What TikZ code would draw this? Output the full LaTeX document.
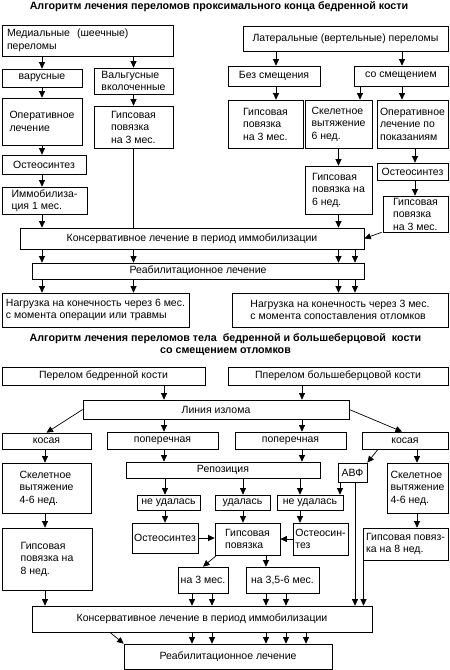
\documentclass[tikz,border=0pt]{standalone}
\usepackage{fontspec}
\setmainfont{Liberation Sans}
\usetikzlibrary{arrows.meta,calc}
\tikzset{
  box/.style={draw, line width=0.7pt, inner sep=0pt, align=center, font=\fontsize{10.5}{12.5}\selectfont},
  arr/.style={line width=0.7pt, -{Triangle[length=6.5pt,width=6pt]}},
  ln/.style={line width=0.7pt},
  ttl/.style={font=\fontsize{10.7}{12}\selectfont\bfseries, align=center, inner sep=0pt},
}
\newcommand\bx[7][]{\node[box,#1,minimum width={#4-#3},minimum height={#6-#5}] (#2) at ({(#3+#4)/2},{(#5+#6)/2}) {#7};}
\begin{document}
\begin{tikzpicture}[x=1pt,y=-1pt]
\useasboundingbox (0,0) rectangle (450,670);
% ---------- chart 1 ----------
\node[ttl] (t1) at (219,6.5) {Алгоритм лечения переломов проксимального конца бедренной кости};
\bx[text width=161pt, align=left]{med}{2}{173}{25}{56}{Медиальные\ \ (шеечные)\\переломы}
\bx{var}{2}{82}{69}{87}{варусные}
\bx[align=left]{val}{94}{173}{68}{94}{Вальгусные\\вколоченные}
\bx[align=left]{oper1}{2}{82}{98}{145}{Оперативное\\лечение}
\bx[align=left]{gips1}{94}{173}{106}{148}{Гипсовая\\повязка\\на 3 мес.}
\bx{osteo1}{2}{86}{155}{174}{Остеосинтез}
\bx[align=left]{immob}{2}{87}{187}{214}{Иммобилиза-\\ция 1 мес.}
\bx{kons1}{20}{364}{228}{249}{Консервативное лечение в период иммобилизации}
\bx{reab1}{32}{364}{263}{279}{Реабилитационное лечение}
\bx[align=left]{nagr1}{2}{189}{293}{327}{Нагрузка на конечность через 6 мес.\\с момента операции или травмы}
\bx[align=left]{nagr2}{232}{448}{293}{327}{Нагрузка на конечность через 3 мес.\\с момента сопоставления отломков}
\bx{lat}{243}{448}{26}{51}{Латеральные (вертельные) переломы}
\bx{bez}{228}{320}{66}{86}{Без смещения}
\bx{sosm}{354}{448}{66}{86}{со смещением}
\bx[align=left]{gips2}{228}{303}{100}{148}{Гипсовая\\повязка\\на 3 мес.}
\bx[align=left]{skel1}{305}{372}{100}{148}{Скелетное\\вытяжение\\6 нед.}
\bx[align=left]{oper2}{377}{448}{100}{148}{Оперативное\\лечение по\\показаниям}
\bx[align=left]{gips3}{305}{372}{166}{214}{Гипсовая\\повязка на\\6 нед.}
\bx{osteo2}{377}{448}{163}{180}{Остеосинтез}
\bx[align=left]{gips4}{383}{448}{196}{232}{Гипсовая\\повязка\\на 3 мес.}
\draw[arr] (med.south -| var.north) -- (var.north);
\draw[arr] (med.south -| val.north) -- (val.north);
\draw[arr] (var.south) -- (oper1.north);
\draw[arr] (oper1.south) -- (osteo1.north -| oper1.south);
\draw[arr] (osteo1.south -| oper1.south) -- (immob.north -| oper1.south);
\draw[arr] (immob.south -| oper1.south) -- (kons1.north -| oper1.south);
\draw[arr] (val.south) -- (gips1.north);
\draw[ln] (gips1.south) -- (kons1.north -| gips1.south);
\foreach \x in {42,133.5,338.5,355} \draw[arr] (kons1.south -| \x,0) -- (reab1.north -| \x,0);
\foreach \x in {42,133.5} \draw[arr] (reab1.south -| \x,0) -- (nagr1.north -| \x,0);
\foreach \x in {338.5,355} \draw[arr] (reab1.south -| \x,0) -- (nagr2.north -| \x,0);
\draw[arr] (lat.south -| 276,0) -- (bez.north -| 276,0);
\draw[arr] (lat.south -| 402,0) -- (sosm.north -| 402,0);
\draw[arr] (bez.south -| 276,0) -- (gips2.north -| 276,0);
\draw[arr] (sosm.south -| 360,0) -- (skel1.north -| 360,0);
\draw[arr] (sosm.south -| 402,0) -- (oper2.north -| 402,0);
\draw[arr] (skel1.south) -- (gips3.north);
\draw[arr] (gips3.south) -- (kons1.north -| gips3.south);
\draw[arr] (oper2.south -| 415,0) -- (osteo2.north -| 415,0);
\draw[arr] (osteo2.south -| 415,0) -- (gips4.north -| 415,0);
\draw[arr] ([xshift=-1pt]gips4.south west) -- (kons1.east);
% ---------- chart 2 ----------
\node[ttl] (t2) at (225.5,345) {Алгоритм лечения переломов тела\ \ бедренной и большеберцовой\ \ кости\\со смещением отломков};
\bx{pb}{2}{205}{367}{385}{Перелом бедренной кости}
\bx{pbb}{228}{448}{367}{385}{Пперелом большеберцовой кости}
\bx{lin}{83}{349}{400}{419}{Линия излома}
\bx{kos1}{2}{91}{433}{449}{косая}
\bx{pop1}{107}{218}{432}{449}{поперечная}
\bx{pop2}{235}{346}{432}{449}{поперечная}
\bx{kos2}{362}{448}{432}{449}{косая}
\bx[align=left]{skel2}{2}{91}{463}{513}{Скелетное\\вытяжение\\4-6 нед.}
\bx{repo}{126}{320}{462}{478}{Репозиция}
\bx{avf}{338}{367}{463}{482}{АВФ}
\bx[align=left]{skel3}{387}{448}{463}{513}{Скелетное\\вытяжение\\4-6 нед.}
\bx{nu1}{137}{200}{495}{510}{не удалась}
\bx{ud}{215}{270}{495}{510}{удалась}
\bx{nu2}{277}{343}{495}{510}{не удалась}
\bx{osteo3}{132}{198}{523}{553}{Остеосинтез}
\bx[align=left]{gips5}{215}{280}{523}{555}{Гипсовая\\повязка}
\bx[align=left]{osteo4}{293}{348}{523}{555}{Остеосин-\\тез}
\bx[align=left]{gips6}{2}{92}{528}{590}{Гипсовая\\повязка на\\8 нед.}
\bx[align=left]{gips7}{363}{448}{528}{560}{Гипсовая повяз-\\ка на 8 нед.}
\bx{n3}{178}{228}{567}{593}{на 3 мес.}
\bx{n36}{246}{319}{567}{593}{на 3,5-6 мес.}
\bx{kons2}{32}{372}{606}{632}{Консервативное лечение в период иммобилизации}
\bx{reab2}{124}{332}{644}{669}{Реабилитационное лечение}
\draw[arr] (pb.south -| 164,0) -- (lin.north -| 164,0);
\draw[arr] (pbb.south -| 302,0) -- (lin.north -| 302,0);
\draw[arr] (lin.west) -- (kos1.north);
\draw[arr] (lin.east) -- ([xshift=-3pt]kos2.north);
\draw[arr] (lin.south -| 164,0) -- (pop1.north -| 164,0);
\draw[arr] (lin.south -| 302,0) -- (pop2.north -| 302,0);
\draw[arr] (kos1.south -| 45,0) -- (skel2.north -| 45,0);
\draw[arr] (pop1.south -| 164,0) -- (repo.north -| 164,0);
\draw[arr] (pop2.south -| 302,0) -- (repo.north -| 302,0);
\draw[arr] (kos2.south -| 378,0) -- (avf.north east);
\draw[arr] (kos2.south -| 417,0) -- (skel3.north -| 417,0);
\draw[arr] (avf.south -| 355,0) -- (kons2.north -| 355,0);
\draw[arr] (avf.south -| 340,0) -- (nu2.north -| 340,0);
\draw[arr] (repo.south -| 165,0) -- (nu1.north -| 165,0);
\draw[arr] (repo.south -| 243,0) -- (ud.north -| 243,0);
\draw[arr] (repo.south -| 300,0) -- (nu2.north -| 300,0);
\draw[arr] (nu1.south -| 165,0) -- (osteo3.north -| 165,0);
\draw[arr] (ud.south -| 243,0) -- (gips5.north -| 243,0);
\draw[arr] (nu2.south -| 300,0) -- (osteo4.north -| 300,0);
\draw[arr] (osteo3.east) -- (osteo3.east -| gips5.west);
\draw[arr] (osteo4.west) -- (osteo4.west -| gips5.east);
\draw[arr] ([xshift=2pt]gips5.south west) -- (n3.north);
\draw[arr] (gips5.south -| 266,0) -- (n36.north -| 266,0);
\draw[arr] (skel2.south -| 45,0) -- (gips6.north -| 45,0);
\draw[arr] (gips6.south -| 45,0) -- (kons2.north -| 45,0);
\draw[arr] (skel3.south -| 417,0) -- (gips7.north -| 417,0);
\draw[arr] (gips7.south -| 363.5,0) -- (kons2.north -| 363.5,0);
\foreach \x in {192,212} \draw[arr] (n3.south -| \x,0) -- (kons2.north -| \x,0);
\foreach \x in {266,286} \draw[arr] (n36.south -| \x,0) -- (kons2.north -| \x,0);
\foreach \x in {192,212,266,286,306} \draw[arr] (kons2.south -| \x,0) -- (reab2.north -| \x,0);
\draw[arr] (kons2.south -| 110,0) -- (reab2.north west);
\end{tikzpicture}
\end{document}
